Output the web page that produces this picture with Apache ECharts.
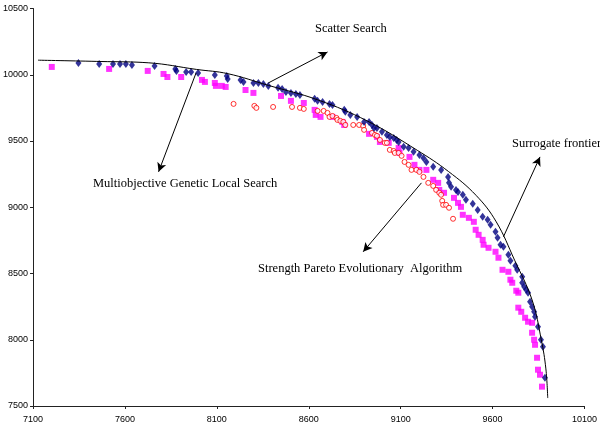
<!DOCTYPE html>
<html>
<head>
<meta charset="utf-8">
<script src="https://cdn.jsdelivr.net/npm/echarts@6/dist/echarts.min.js"></script>
<style>html,body{margin:0;padding:0;background:#fff}#c{width:600px;height:432px}</style>
</head>
<body>
<div id="c"></div>
<script>
const xTickLabels = [7100, 7600, 8100, 8600, 9100, 9600, 10100];
const yTickLabels = [7500, 8000, 8500, 9000, 9500, 10000, 10500];

const surrogateFrontier = [[7127,10110],[7470,10100],[7730,10090],[7990,10040],[8160,10008],[8380,9920],[8650,9810],[8920,9650],[9190,9430],[9360,9270],[9510,9090],[9620,8890],[9720,8600],[9815,8300],[9865,8000],[9890,7780],[9900,7560]];

const scatterSearch = [[7347,10089],[7460,10081],[7535,10081],[7573,10081],[7605,10081],[7638,10074],[7761,10066],[7874,10044],[7880,10029],[7933,10021],[7960,10021],[7998,10014],[8089,9999],[8154,9991],[8159,9968],[8229,9961],[8245,9946],[8299,9938],[8326,9938],[8353,9931],[8380,9916],[8433,9901],[8455,9893],[8476,9870],[8503,9863],[8530,9855],[8552,9848],[8632,9818],[8648,9803],[8675,9795],[8713,9780],[8729,9772],[8793,9735],[8799,9720],[8826,9697],[8863,9682],[8901,9644],[8928,9644],[8944,9621],[8955,9599],[8971,9599],[8998,9569],[9025,9546],[9041,9531],[9062,9523],[9078,9508],[9089,9493],[9116,9456],[9143,9448],[9170,9418],[9202,9395],[9224,9372],[9240,9342],[9277,9305],[9320,9282],[9358,9229],[9363,9184],[9374,9154],[9401,9131],[9412,9116],[9438,9094],[9455,9056],[9492,9026],[9519,8980],[9546,8928],[9573,8905],[9589,8867],[9616,8815],[9627,8769],[9643,8717],[9659,8701],[9686,8641],[9697,8596],[9724,8558],[9734,8528],[9761,8475],[9761,8430],[9772,8400],[9783,8377],[9793,8355],[9804,8287],[9815,8249],[9826,8211],[9831,8174],[9847,8098],[9863,8000],[9874,7947],[9885,7714]];

const mogls = [[7202,10059],[7514,10044],[7724,10029],[7810,10006],[7831,9983],[7906,9983],[8019,9961],[8035,9946],[8089,9938],[8095,9916],[8127,9916],[8148,9908],[8256,9885],[8299,9863],[8449,9840],[8503,9803],[8573,9787],[8632,9735],[8638,9697],[8664,9682],[8729,9682],[8783,9644],[8793,9621],[8928,9554],[8971,9531],[8987,9493],[9035,9486],[9089,9448],[9094,9410],[9148,9380],[9175,9320],[9202,9282],[9240,9282],[9277,9207],[9304,9184],[9310,9131],[9336,9109],[9390,9071],[9412,9033],[9428,9003],[9438,8943],[9471,8920],[9498,8890],[9508,8830],[9524,8792],[9546,8754],[9551,8717],[9578,8694],[9616,8664],[9632,8619],[9654,8528],[9686,8513],[9697,8453],[9707,8430],[9729,8370],[9740,8355],[9740,8242],[9756,8211],[9777,8166],[9793,8136],[9815,8128],[9815,8053],[9826,8000],[9831,7962],[9842,7864],[9847,7774],[9858,7736],[9869,7646]];

const spea = [[8191,9780],[8304,9765],[8315,9750],[8406,9757],[8509,9757],[8552,9750],[8573,9742],[8648,9727],[8681,9727],[8702,9712],[8713,9682],[8729,9689],[8751,9674],[8756,9659],[8772,9652],[8788,9644],[8799,9621],[8842,9621],[8874,9621],[8896,9614],[8901,9584],[8944,9561],[8960,9546],[8971,9539],[8987,9508],[9014,9486],[9025,9486],[9041,9433],[9062,9425],[9068,9410],[9089,9410],[9105,9388],[9121,9342],[9143,9320],[9159,9282],[9186,9282],[9202,9267],[9224,9229],[9250,9184],[9277,9161],[9293,9131],[9310,9109],[9320,9094],[9326,9048],[9331,9018],[9347,9018],[9363,8996],[9385,8913]];

const annotations = [
  {text: 'Scatter Search', from: [8380, 9938], to: [8702, 10172], label: [315, 30]},
  {text: 'Multiobjective Genetic Local Search', from: [7987, 10014], to: [7783, 9267], label: [93, 185]},
  {text: 'Strength Pareto Evolutionary  Algorithm', from: [9213, 9184], to: [8896, 8664], label: [258, 270]},
  {text: 'Surrogate frontier', from: [9659, 8777], to: [9858, 9380], label: [512, 145]}
];

const chart = echarts.init(document.getElementById('c'), null, {renderer: 'canvas'});
const tickFont = {fontFamily: "'Liberation Sans Narrow','Arial Narrow','Liberation Sans',Arial,sans-serif", fontSize: 9, color: '#000'};

chart.setOption({
  animation: false,
  backgroundColor: '#fff',
  grid: {left: 32, right: 10, top: 8.5, bottom: 26, containLabel: false},
  xAxis: {
    type: 'value', min: 7100, max: 10100,
    axisLine: {show: true, lineStyle: {color: '#222', width: 1}},
    axisTick: {show: true, length: 3, lineStyle: {color: '#222'}, customValues: xTickLabels},
    axisLabel: Object.assign({margin: 9, customValues: xTickLabels, formatter: v => String(v)}, tickFont),
    splitLine: {show: false}
  },
  yAxis: {
    type: 'value', min: 7500, max: 10500, interval: 500,
    axisLine: {show: true, lineStyle: {color: '#222', width: 1}},
    axisTick: {show: true, length: 3, lineStyle: {color: '#222'}},
    axisLabel: Object.assign({margin: 5, formatter: v => String(v)}, tickFont),
    splitLine: {show: false}
  },
  series: [
    {name: 'Multiobjective Genetic Local Search', type: 'scatter', data: mogls, symbol: 'rect', symbolSize: 6, itemStyle: {color: '#FF00FF'}},
    {name: 'Strength Pareto Evolutionary Algorithm', type: 'scatter', data: spea, symbol: 'circle', symbolSize: 5, itemStyle: {color: '#FFFFFF', borderColor: '#FF0000', borderWidth: 1}},
    {name: 'Scatter Search', type: 'scatter', data: scatterSearch, symbol: 'diamond', symbolSize: [6, 8], itemStyle: {color: '#000080'}},
    {name: 'Surrogate frontier', type: 'line', data: surrogateFrontier, smooth: 0.4, showSymbol: false, lineStyle: {color: '#000', width: 1},
      markLine: {
        silent: true, symbol: ['none', 'arrow'], symbolSize: [7, 9],
        label: {show: false},
        lineStyle: {color: '#000', width: 1, type: 'solid'},
        data: annotations.map(a => [{coord: a.from}, {coord: a.to}])
      }
    }
  ],
  graphic: annotations.map(a => ({
    type: 'text', left: a.label[0], top: a.label[1] - 8,
    style: {text: a.text, font: "12.5px 'Liberation Serif','Times New Roman',serif", fill: '#000'}
  }))
});
</script>
</body>
</html>
